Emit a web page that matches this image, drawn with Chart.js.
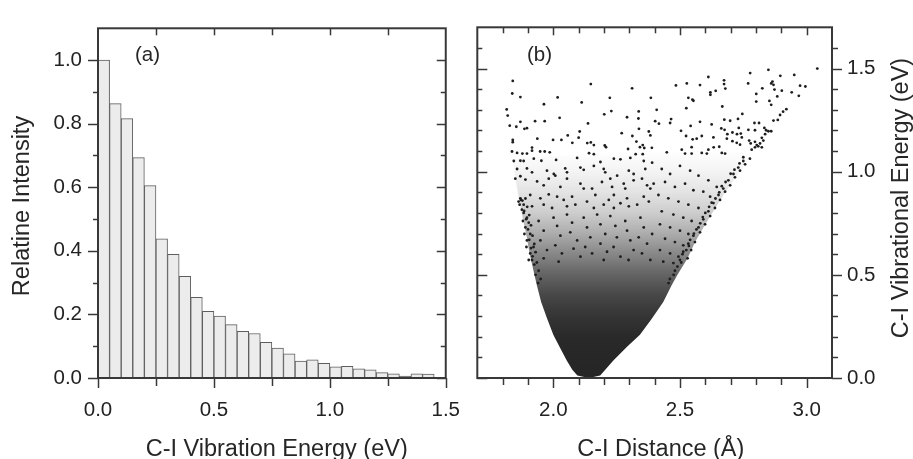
<!DOCTYPE html>
<html><head><meta charset="utf-8">
<script src="https://cdn.jsdelivr.net/npm/chart.js@4.4.1/dist/chart.umd.min.js"></script>
<style>
html,body{margin:0;padding:0;background:#fff;}
#wrap{position:relative;width:913px;height:459px;overflow:hidden;background:#fff;}
canvas{position:absolute;top:0;}
#ca{left:0;z-index:1;}
#cb{left:460px;z-index:2;}
</style></head><body>
<div id="wrap"><canvas id="ca" width="480" height="459"></canvas><canvas id="cb" width="453" height="459"></canvas></div>
<script>
// ---------- Panel (a): histogram ----------
const binCenters = [0.025,0.075,0.125,0.175,0.225,0.275,0.325,0.375,0.425,0.475,0.525,0.575,0.625,0.675,0.725,0.775,0.825,0.875,0.925,0.975,1.025,1.075,1.125,1.175,1.225,1.275,1.325,1.375,1.425,1.475];
const intensity = [1.0,0.863,0.816,0.693,0.605,0.438,0.389,0.32,0.254,0.21,0.195,0.168,0.147,0.14,0.112,0.094,0.076,0.053,0.057,0.046,0.035,0.037,0.029,0.026,0.017,0.013,0.006,0.013,0.012,0];
const xTicksA = [0, 0.5, 1.0, 1.5];
const xMinorA = [0.25, 0.75, 1.25];
const yTicksA = [0, 0.2, 0.4, 0.6, 0.8, 1.0];
const yMinorA = [0.1, 0.3, 0.5, 0.7, 0.9];

// ---------- Panel (b): scatter ----------
const xTicksB = [2.0, 2.5, 3.0];
const xMinorB = [1.8, 1.9, 2.1, 2.2, 2.3, 2.4, 2.6, 2.7, 2.8, 2.9];
const yTicksB = [0, 0.5, 1.0, 1.5];
const yMinorB = [0.1, 0.2, 0.3, 0.4, 0.6, 0.7, 0.8, 0.9, 1.1, 1.2, 1.3, 1.4, 1.6];
// outline of the densely filled region (left edge bottom->top, right edge top->bottom)
const envelopeLeft = [[2.14,0],[2.095,0.012],[2.075,0.04],[2.053,0.085],[2.025,0.15],[2.0,0.21],[1.975,0.29],[1.952,0.368],[1.935,0.45],[1.921,0.525],[1.907,0.6],[1.895,0.683],[1.882,0.76],[1.869,0.84],[1.86,0.9],[1.85,0.97],[1.84,1.06],[2.3,1.1]];
const envelopeRight = [[2.79,1.1],[2.76,1.04],[2.72,0.973],[2.68,0.903],[2.64,0.825],[2.6,0.745],[2.56,0.66],[2.53,0.58],[2.49,0.5],[2.467,0.45],[2.434,0.368],[2.39,0.29],[2.342,0.21],[2.29,0.15],[2.237,0.085],[2.205,0.04],[2.185,0.012]];
// individual points in the sparse upper region
const sparsePoints = [[1.84,1.44],[2.148,1.425],[2.311,1.404],[1.838,1.379],[1.87,1.362],[2.017,1.36],[2.223,1.358],[2.385,1.358],[1.963,1.327],[2.112,1.336],[1.816,1.302],[1.82,1.272],[2.229,1.294],[2.201,1.278],[2.337,1.292],[2.291,1.264],[2.336,1.258],[2.025,1.261],[1.828,1.223],[1.854,1.218],[1.87,1.242],[1.928,1.245],[1.966,1.245],[1.886,1.208],[1.896,1.211],[2.137,1.234],[2.338,1.208],[2.104,1.195],[2.27,1.187],[2.377,1.195],[2.383,1.176],[1.937,1.16],[1.999,1.154],[2.032,1.154],[2.057,1.176],[2.1,1.165],[2.075,1.14],[2.312,1.173],[2.328,1.146],[1.84,1.154],[1.84,1.143],[2.134,1.139],[2.148,1.142],[2.16,1.129],[2.203,1.127],[2.208,1.119],[2.342,1.119],[2.353,1.129],[2.359,1.115],[2.389,1.116],[2.295,1.11],[1.837,1.098],[1.857,1.091],[1.878,1.088],[1.896,1.088],[1.916,1.102],[1.916,1.117],[1.948,1.098],[1.966,1.098],[1.986,1.094],[2.141,1.09],[2.16,1.085],[2.325,1.085],[2.353,1.085],
[3.042,1.5],[2.849,1.494],[2.777,1.478],[2.951,1.469],[2.896,1.465],[2.612,1.459],[2.674,1.443],[2.674,1.425],[2.679,1.403],[2.484,1.418],[2.527,1.428],[2.579,1.42],[2.769,1.428],[2.865,1.437],[2.86,1.428],[2.869,1.421],[2.974,1.417],[2.995,1.413],[2.825,1.404],[2.873,1.398],[2.902,1.393],[2.941,1.385],[2.969,1.368],[2.884,1.365],[2.62,1.385],[2.62,1.373],[2.641,1.392],[2.801,1.377],[2.533,1.358],[2.549,1.349],[2.553,1.344],[2.801,1.34],[2.853,1.343],[2.86,1.324],[2.667,1.316],[2.525,1.308],[2.408,1.3],[2.92,1.303],[2.907,1.291],[2.895,1.275],[2.886,1.251],[2.869,1.248],[2.746,1.28],[2.729,1.256],[2.675,1.252],[2.698,1.247],[2.579,1.242],[2.465,1.255],[2.461,1.236],[2.402,1.245],[2.417,1.233],[2.794,1.236],[2.812,1.236],[2.625,1.229],[2.542,1.222],[2.663,1.21],[2.676,1.203],[2.732,1.212],[2.504,1.198],[2.77,1.203],[2.796,1.201],[2.833,1.212],[2.84,1.201],[2.849,1.196],[2.86,1.196],[2.687,1.182],[2.707,1.19],[2.725,1.182],[2.74,1.185],[2.524,1.173],[2.55,1.157],[2.566,1.16],[2.586,1.173],[2.632,1.166],[2.685,1.16],[2.744,1.166],[2.707,1.148],[2.724,1.14],[2.737,1.131],[2.773,1.151],[2.779,1.137],[2.796,1.145],[2.803,1.129],[2.816,1.137],[2.823,1.164],[2.836,1.182],[2.829,1.151],[2.655,1.121],[2.633,1.118],[2.612,1.107],[2.546,1.119],[2.507,1.107],[2.52,1.088],[2.546,1.088],[2.586,1.091],[2.606,1.088],[2.665,1.091],[2.678,1.088],[2.448,1.094],[2.783,1.107],[2.796,1.118],[2.809,1.123],[2.823,1.118]];
// individual points in the middle region
const midPoints = [[1.844,1.052],[1.87,1.053],[1.883,1.052],[1.923,1.063],[1.953,1.053],[2.011,1.057],[2.094,1.067],[2.186,1.047],[2.239,1.063],[2.265,1.06],[2.304,1.067],[2.357,1.052],[2.39,1.044],
[1.857,1.013],[1.896,1.016],[1.916,0.997],[1.975,1.005],[2.002,0.989],[2.047,1.016],[2.054,0.997],[2.107,1.02],[2.12,1.009],[2.16,1.028],[2.199,1.013],[2.205,0.997],[2.252,0.981],[2.298,1.005],[2.317,0.989],[2.363,1.013],
[1.85,0.966],[1.87,0.978],[1.89,0.962],[1.936,0.953],[1.962,0.934],[1.982,0.966],[2.008,0.981],[2.028,0.926],[2.054,0.966],[2.107,0.942],[2.12,0.918],[2.153,0.918],[2.192,0.95],[2.225,0.966],[2.232,0.926],[2.278,0.942],[2.284,0.918],[2.317,0.958],[2.35,0.966],[2.37,0.934],[2.383,0.918],[2.396,0.942],
[1.87,0.871],[1.863,0.855],[1.909,0.887],[1.949,0.871],[1.982,0.89],[2.015,0.879],[2.041,0.863],[2.074,0.879],[2.087,0.84],[2.133,0.855],[2.166,0.887],[2.199,0.84],[2.219,0.863],[2.239,0.887],[2.265,0.847],[2.291,0.871],[2.331,0.84],[2.357,0.879],[2.377,0.855],[1.883,0.84],[1.916,0.832],[1.962,0.84],[1.995,0.824],[2.054,0.832],[2.16,0.824],[2.239,0.824],[2.298,0.832],
[1.883,0.8],[1.896,0.777],[1.903,0.753],[1.89,0.73],[1.909,0.698],[1.896,0.667],[1.922,0.635],[1.909,0.604],[1.916,0.572],[1.942,0.761],[1.962,0.714],[1.949,0.667],[1.975,0.62],[1.962,0.58],[2.001,0.777],[2.015,0.737],[2.028,0.69],[2.008,0.643],[2.034,0.604],[2.021,0.564],[2.054,0.792],[2.074,0.753],[2.067,0.706],[2.094,0.667],[2.08,0.627],[2.107,0.588],[2.12,0.777],[2.133,0.73],[2.146,0.682],[2.126,0.635],[2.153,0.604],[2.173,0.792],[2.186,0.745],[2.205,0.698],[2.186,0.651],[2.212,0.612],[2.199,0.572],[2.225,0.785],[2.245,0.737],[2.251,0.682],[2.238,0.635],[2.265,0.588],[2.284,0.761],[2.291,0.714],[2.304,0.667],[2.317,0.62],[2.297,0.572],[2.344,0.777],[2.357,0.73],[2.337,0.682],[2.37,0.651],[2.35,0.604],[2.383,0.572],[2.39,0.698],
[1.872,0.863],[1.867,0.84],[1.876,0.816],[1.88,0.761],[1.886,0.698],[1.894,0.635],[1.903,0.572],
[2.776,1.063],[2.757,1.036],[2.737,1.005],[2.717,0.973],[2.698,0.934],[2.678,0.903],[2.658,0.863],[2.638,0.824],[2.619,0.785],[2.599,0.745],[2.579,0.706],[2.559,0.659],[2.544,0.62],[2.53,0.58],
[2.75,1.052],[2.73,1.02],[2.711,0.989],[2.691,0.958],[2.671,0.918],[2.652,0.887],[2.632,0.848],[2.612,0.808],[2.592,0.769],[2.573,0.73],[2.553,0.69],[2.533,0.651],[2.513,0.612],[2.5,0.572],
[2.428,1.013],[2.461,0.989],[2.5,1.028],[2.54,1.005],[2.573,0.981],[2.612,0.958],[2.645,0.926],[2.441,0.95],[2.48,0.926],[2.52,0.942],[2.553,0.91],[2.592,0.903],[2.619,0.879],[2.415,0.887],[2.454,0.871],[2.494,0.855],[2.533,0.84],[2.573,0.824],[2.428,0.808],[2.474,0.792],[2.513,0.777],[2.546,0.761],[2.421,0.745],[2.461,0.73],[2.5,0.714],[2.533,0.698],[2.441,0.675],[2.48,0.659],[2.513,0.643],[2.421,0.62],[2.461,0.604],[2.494,0.588],[2.434,0.564],[2.474,0.557]];
// points crowding along the two edges of the dense region
const edgePoints = [[1.94,0.46],[1.95,0.48],[1.93,0.5],[1.942,0.52],[1.925,0.55],[1.935,0.56],[1.918,0.59],[1.93,0.61],[1.912,0.63],[1.925,0.65],[1.905,0.67],[1.918,0.69],[1.9,0.72],[1.912,0.74],[1.893,0.77],[1.905,0.79],[1.885,0.81],[1.897,0.83],[1.878,0.86],[1.89,0.87],
[2.455,0.46],[2.46,0.48],[2.475,0.5],[2.48,0.52],[2.49,0.54],[2.505,0.56],[2.51,0.6],[2.525,0.62],[2.535,0.64],[2.54,0.67],[2.555,0.7],[2.565,0.72],[2.58,0.75],[2.59,0.78],[2.6,0.8],[2.615,0.83],[2.625,0.85],[2.64,0.87],[2.655,0.9],[2.665,0.93],[2.68,0.95],[2.7,0.99],[2.715,1.01],[2.735,1.04],[2.75,1.07]];

Chart.defaults.font.family = "'Liberation Sans', Arial, sans-serif";
Chart.defaults.color = '#222';

const FONT = "'Liberation Sans', Arial, sans-serif";
const framePlugin = {
  id: 'frame',
  afterDraw(chart, args, opts) {
    const {ctx, chartArea: a, scales} = chart;
    ctx.save();
    ctx.strokeStyle = '#383838';
    ctx.lineWidth = 1.5;
    for (const t of opts.ticks || []) {
      const sc = scales[t.axis];
      for (const v of t.values) {
        const p = Math.round(sc.getPixelForValue(v)) + 0.5;
        const L = t.len;
        ctx.beginPath();
        if (t.side === 'bottom') { ctx.moveTo(p, a.bottom); ctx.lineTo(p, a.bottom + (t.out ? L : -L)); }
        else if (t.side === 'top') { ctx.moveTo(p, a.top); ctx.lineTo(p, a.top + (t.out ? -L : L)); }
        else if (t.side === 'left') { ctx.moveTo(a.left, p); ctx.lineTo(a.left + (t.out ? -L : L), p); }
        else { ctx.moveTo(a.right, p); ctx.lineTo(a.right + (t.out ? L : -L), p); }
        ctx.stroke();
      }
    }
    ctx.lineWidth = 2;
    ctx.strokeRect(a.left, a.top, a.right - a.left, a.bottom - a.top);
    ctx.fillStyle = '#262626';
    for (const tx of opts.texts || []) {
      ctx.save();
      ctx.font = tx.size + 'px ' + FONT;
      ctx.textAlign = tx.align || 'center';
      ctx.textBaseline = 'alphabetic';
      ctx.translate(tx.x, tx.y);
      if (tx.rot) ctx.rotate(tx.rot);
      ctx.fillText(tx.text, 0, 0);
      ctx.restore();
    }
    ctx.restore();
  }
};

const tickFont = {size: 20.5};
const fmt = v => Number(v).toFixed(1);

new Chart(document.getElementById('ca'), {
  type: 'bar',
  data: {
    datasets: [{
      data: binCenters.map((c, i) => ({x: c, y: intensity[i]})),
      backgroundColor: '#ececec',
      borderColor: '#5e5e5e',
      borderWidth: 1,
      barPercentage: 1,
      categoryPercentage: 1
    }]
  },
  options: {
    responsive: false, animation: false, devicePixelRatio: 1,
    layout: {padding: {left: 0, right: 28, top: 17, bottom: 0}},
    plugins: {
      legend: {display: false}, tooltip: {enabled: false},
      frame: {
        ticks: [
          {axis: 'x', side: 'bottom', out: true, len: 10, values: xTicksA},
          {axis: 'x', side: 'bottom', out: true, len: 8, values: xMinorA},
          {axis: 'x', side: 'top', out: false, len: 7, values: [0.25, 0.5, 0.75, 1.0, 1.25]},
          {axis: 'y', side: 'left', out: true, len: 10, values: yTicksA},
          {axis: 'y', side: 'left', out: true, len: 5, values: yMinorA},
          {axis: 'y', side: 'right', out: false, len: 9, values: yTicksA},
          {axis: 'y', side: 'right', out: false, len: 5, values: yMinorA}
        ],
        texts: [
          {text: 'Relatine Intensity', x: 29, y: 206, rot: -Math.PI / 2, size: 23.5},
          {text: 'C-I Vibration Energy (eV)', x: 276.7, y: 456, size: 23.5},
          {text: '(a)', x: 135, y: 61, size: 20.5, align: 'left'}
        ]
      }
    },
    scales: {
      x: {
        type: 'linear', min: 0, max: 1.5, offset: false,
        grid: {display: false, drawTicks: false}, border: {display: false},
        ticks: {padding: 20, font: tickFont, color: '#222', callback: fmt, maxRotation: 0, autoSkip: false},
        afterBuildTicks: s => { s.ticks = xTicksA.map(v => ({value: v})); },
        afterFit: s => { s.height = 81; }
      },
      y: {
        type: 'linear', min: 0, max: 1.1,
        grid: {display: false, drawTicks: false}, border: {display: false},
        ticks: {padding: 16, font: tickFont, color: '#222', callback: fmt, autoSkip: false},
        afterBuildTicks: s => { s.ticks = yTicksA.map(v => ({value: v})); },
        afterFit: s => { s.width = 98; }
      }
    }
  },
  plugins: [framePlugin]
});

const densityFill = (c) => {
  const ch = c.chart;
  if (!ch.chartArea) return 'rgba(25,25,25,0.5)';
  const ys = ch.scales.y;
  const y0 = ys.getPixelForValue(0), y1 = ys.getPixelForValue(1.1);
  const g = ch.ctx.createLinearGradient(0, y0, 0, y1);
  const stops = [[0,0.95],[0.2,0.93],[0.3,0.88],[0.4,0.8],[0.5,0.68],[0.6,0.52],[0.7,0.36],[0.8,0.22],[0.9,0.12],[1.0,0.05],[1.1,0]];
  for (const [v, a] of stops) g.addColorStop(v / 1.1, 'rgba(25,25,25,' + a + ')');
  return g;
};

const toXY = arr => arr.map(p => ({x: p[0], y: p[1]}));

new Chart(document.getElementById('cb'), {
  type: 'scatter',
  data: {
    datasets: [
      {
        type: 'line',
        data: toXY(envelopeLeft.concat(envelopeRight)),
        showLine: true, tension: 0, pointRadius: 0,
        borderColor: 'rgba(0,0,0,0)', borderWidth: 1,
        backgroundColor: densityFill, fill: 'shape', order: 2
      },
      {
        data: toXY(sparsePoints.concat(midPoints, edgePoints)),
        pointRadius: 1.4, pointBorderWidth: 0,
        backgroundColor: '#1e1e1e', borderColor: '#1e1e1e', order: 1
      }
    ]
  },
  options: {
    responsive: false, animation: false, devicePixelRatio: 1,
    layout: {padding: {left: 17.3, right: 0, top: 17, bottom: 0}},
    plugins: {
      legend: {display: false}, tooltip: {enabled: false},
      frame: {
        ticks: [
          {axis: 'x', side: 'bottom', out: true, len: 10, values: xTicksB},
          {axis: 'x', side: 'bottom', out: true, len: 7, values: xMinorB},
          {axis: 'x', side: 'top', out: false, len: 8, values: xTicksB},
          {axis: 'x', side: 'top', out: false, len: 6, values: xMinorB},
          {axis: 'y', side: 'left', out: false, len: 10, values: yTicksB},
          {axis: 'y', side: 'left', out: false, len: 5, values: yMinorB},
          {axis: 'y', side: 'right', out: true, len: 10, values: yTicksB},
          {axis: 'y', side: 'right', out: true, len: 6, values: yMinorB}
        ],
        texts: [
          {text: 'C-I Distance (Å)', x: 200.8, y: 456, size: 23.5},
          {text: 'C-I Vibrational Energy (eV)', x: 448, y: 198, rot: -Math.PI / 2, size: 23.5},
          {text: '(b)', x: 67, y: 61, size: 20.5, align: 'left'}
        ]
      }
    },
    scales: {
      x: {
        type: 'linear', position: 'bottom', min: 1.7, max: 3.1,
        grid: {display: false, drawTicks: false}, border: {display: false},
        ticks: {padding: 20, font: tickFont, color: '#222', callback: fmt, maxRotation: 0, autoSkip: false},
        afterBuildTicks: s => { s.ticks = xTicksB.map(v => ({value: v})); },
        afterFit: s => { s.height = 81; }
      },
      y: {
        type: 'linear', position: 'right', min: 0, max: 1.7,
        grid: {display: false, drawTicks: false}, border: {display: false},
        ticks: {padding: 15, font: tickFont, color: '#222', callback: fmt, autoSkip: false},
        afterBuildTicks: s => { s.ticks = yTicksB.map(v => ({value: v})); },
        afterFit: s => { s.width = 81; }
      }
    }
  },
  plugins: [framePlugin]
});
</script>
</body></html>
